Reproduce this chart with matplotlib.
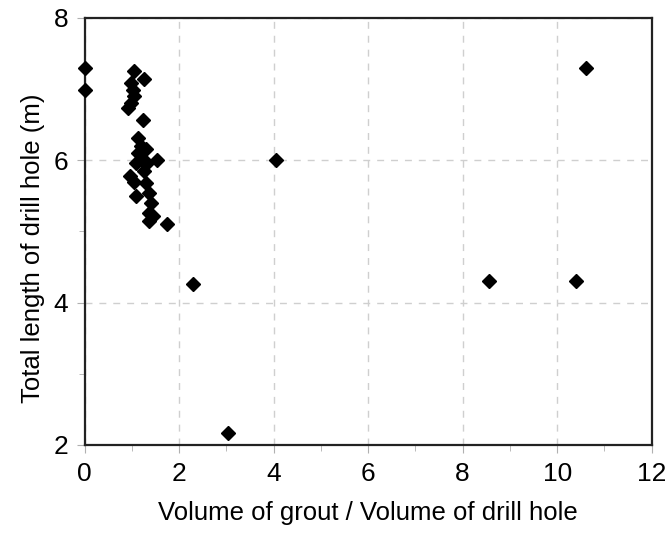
import matplotlib as mpl
mpl.use('Agg')
import matplotlib.pyplot as plt
from matplotlib.ticker import MultipleLocator

plt.rcParams['font.family'] = ['Liberation Sans', 'DejaVu Sans']

# grout volume ratio vs drill hole length
ratio = [0.0, 0.0, 10.6, 4.05, 2.3, 8.55, 10.4, 3.03,
         1.05, 1.26, 0.98, 1.02, 1.05, 0.98, 0.91, 1.23,
         1.12, 1.19, 1.30, 1.12, 1.23, 1.54, 1.08, 1.30,
         1.26, 0.95, 1.05, 1.30, 1.09, 1.37, 1.40, 1.37,
         1.44, 1.37, 1.75]
length = [7.29, 6.99, 7.29, 6.0, 4.26, 4.3, 4.3, 2.17,
          7.25, 7.14, 7.08, 6.99, 6.9, 6.8, 6.73, 6.56,
          6.31, 6.2, 6.15, 6.10, 6.01, 6.0, 5.96, 5.94,
          5.85, 5.78, 5.7, 5.68, 5.49, 5.54, 5.40, 5.26,
          5.21, 5.14, 5.11]

fig = plt.figure(figsize=(6.67, 5.38), dpi=100)
ax = fig.add_axes([0.127, 0.173, 0.850, 0.794])

ax.plot(ratio, length, 'D', color='black', markersize=7.5, clip_on=False, zorder=3)

ax.set_xlim(0, 12)
ax.set_ylim(2, 8)
ax.xaxis.set_major_locator(MultipleLocator(2))
ax.xaxis.set_minor_locator(MultipleLocator(1))
ax.yaxis.set_major_locator(MultipleLocator(2))
ax.yaxis.set_minor_locator(MultipleLocator(1))
ax.grid(True, which='major', color='#cfcfcf', linestyle=(0, (5, 5)), linewidth=1)
ax.tick_params(which='both', direction='out', color='#b0b0b0', labelsize=19)
ax.tick_params(which='major', length=6, pad=6)
ax.tick_params(which='minor', length=4)
for s in ax.spines.values():
    s.set_linewidth(1.6)
    s.set_color('#222222')

ax.set_xlabel('Volume of grout / Volume of drill hole', fontsize=18.5, labelpad=11)
ax.set_ylabel('Total length of drill hole (m)', fontsize=18.5, labelpad=6)
ax.yaxis.label.set_y(0.46)

plt.savefig('out.png')
